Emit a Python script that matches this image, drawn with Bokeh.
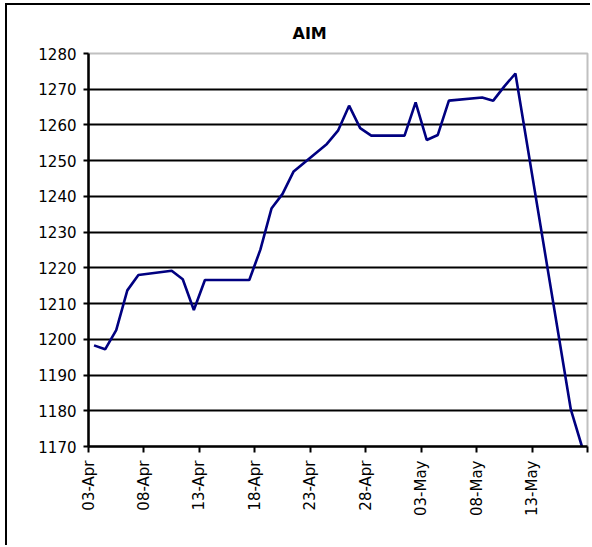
import pandas as pd
from bokeh.plotting import figure
from bokeh.models import Range1d, FixedTicker, Title
from bokeh.embed import file_html
from bokeh.resources import INLINE
from math import pi

# ---- data ----
dates = ["2006-04-03", "2006-04-04", "2006-04-05", "2006-04-06", "2006-04-07",
         "2006-04-10", "2006-04-11", "2006-04-12", "2006-04-13", "2006-04-17",
         "2006-04-18", "2006-04-19", "2006-04-20", "2006-04-21", "2006-04-24",
         "2006-04-25", "2006-04-26", "2006-04-27", "2006-04-28", "2006-05-01",
         "2006-05-02", "2006-05-03", "2006-05-04", "2006-05-05", "2006-05-08",
         "2006-05-09", "2006-05-10", "2006-05-11", "2006-05-16", "2006-05-17"]
values = [1198.3, 1197.2, 1202.6, 1213.7, 1218.0,
          1219.2, 1216.8, 1208.2, 1216.6, 1216.6,
          1225.1, 1236.6, 1240.7, 1247.0, 1254.7,
          1258.4, 1265.4, 1259.1, 1257.0, 1257.0,
          1266.3, 1255.8, 1257.2, 1266.8, 1267.7,
          1266.8, 1270.8, 1274.4, 1180.3, 1170.0]
axis_start = "2006-04-03"
axis_end = "2006-05-18"
tick_labels = ["03-Apr", "08-Apr", "13-Apr", "18-Apr", "23-Apr",
               "28-Apr", "03-May", "08-May", "13-May", ""]
y_ticks = [1170, 1180, 1190, 1200, 1210, 1220, 1230, 1240, 1250, 1260, 1270, 1280]
title_text = "AIM"

# ---- build ----
start = pd.Timestamp(axis_start)
end = pd.Timestamp(axis_end)
xs = [(pd.Timestamp(d) - start).days + 0.5 for d in dates]
span_days = (end - start).days
tick_pos = list(range(0, span_days + 1, 5))

FONT = "DejaVu Sans"

p = figure(width=585, height=542, output_backend="svg", toolbar_location=None,
           x_range=Range1d(0, span_days), y_range=Range1d(y_ticks[0], y_ticks[-1]),
           min_border_left=81, min_border_right=5, min_border_top=48, min_border_bottom=101)
p.styles = {"margin-left": "5px", "margin-top": "3px",
            "border-left": "2px solid black", "border-top": "2px solid black"}
p.title = None
t = Title(text=title_text, align="left", offset=204, text_font=FONT,
          text_font_size="16px", text_font_style="bold", text_color="black",
          standoff=22)
p.add_layout(t, "above")

p.background_fill_color = "white"
p.border_fill_color = "white"
p.outline_line_color = "#c0c0c0"
p.outline_line_width = 2

p.line(xs, values, line_color="#000080", line_width=2.6)

# y axis
p.yaxis.ticker = FixedTicker(ticks=y_ticks)
p.yaxis.axis_line_color = "black"
p.yaxis.axis_line_width = 2.5
p.yaxis.major_tick_line_color = "black"
p.yaxis.major_tick_line_width = 2
p.yaxis.major_tick_out = 5
p.yaxis.major_tick_in = 0
p.yaxis.minor_tick_line_color = None
p.yaxis.major_label_text_font = FONT
p.yaxis.major_label_text_font_size = "15px"
p.yaxis.major_label_text_color = "black"
p.yaxis.major_label_standoff = 7

# x axis
p.xaxis.ticker = FixedTicker(ticks=tick_pos)
p.xaxis.major_label_overrides = {tp: lab for tp, lab in zip(tick_pos, tick_labels)}
p.xaxis.major_label_orientation = pi / 2
p.xaxis.axis_line_color = "black"
p.xaxis.axis_line_width = 2.5
p.xaxis.major_tick_line_color = "black"
p.xaxis.major_tick_line_width = 2
p.xaxis.major_tick_out = 6
p.xaxis.major_tick_in = 0
p.xaxis.minor_tick_line_color = None
p.xaxis.major_label_text_font = FONT
p.xaxis.major_label_text_font_size = "15px"
p.xaxis.major_label_text_color = "black"
p.xaxis.major_label_standoff = 8

# grid
p.xgrid.grid_line_color = None
p.ygrid.ticker = FixedTicker(ticks=y_ticks[:-1])
p.ygrid.grid_line_color = "black"
p.ygrid.grid_line_width = 2

open("out.html", "w").write(file_html(p, INLINE))
